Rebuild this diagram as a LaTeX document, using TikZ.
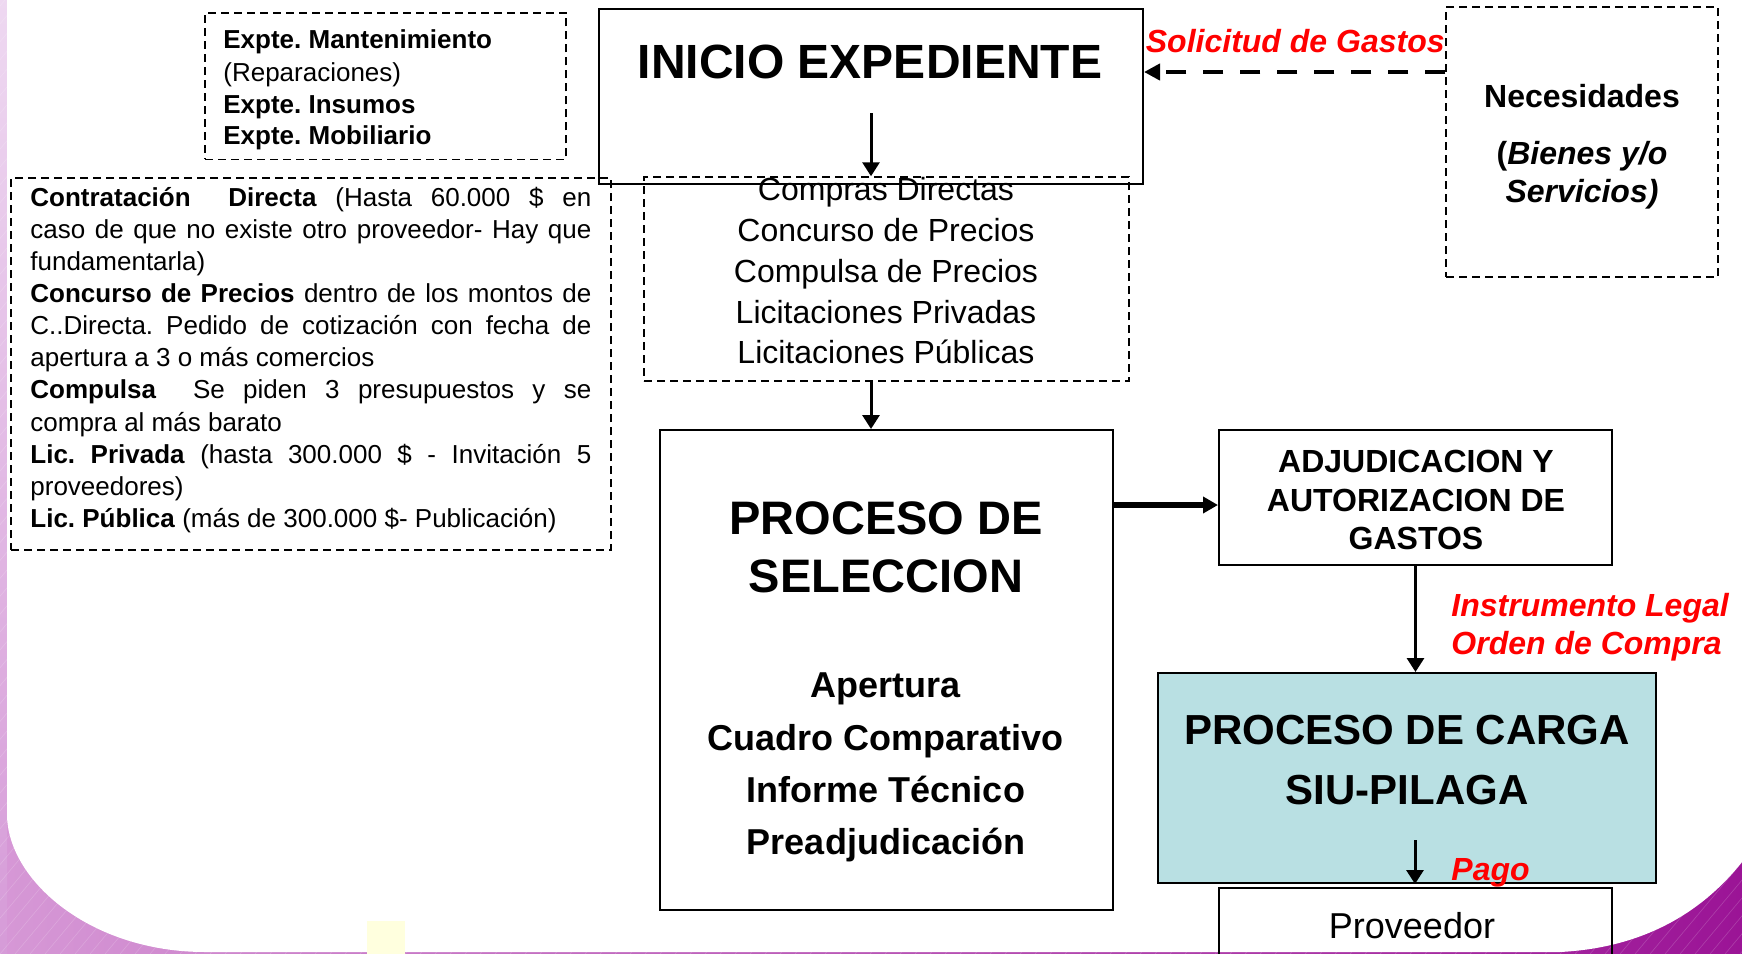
\documentclass[tikz,border=0pt]{standalone}
\usepackage{fontspec}
\setmainfont{Liberation Sans}
\usetikzlibrary{arrows.meta}
\frenchspacing
\definecolor{teal1}{RGB}{185,224,227}
\definecolor{stripTop}{RGB}{238,216,241}
\definecolor{stripBot}{RGB}{214,155,216}
\definecolor{purL}{RGB}{214,152,214}
\definecolor{purR}{RGB}{155,20,150}
\definecolor{yel}{RGB}{255,255,222}
\definecolor{redt}{RGB}{255,0,0}
\newcommand{\jl}[1]{\makebox[280.5pt][s]{#1}}
\tikzset{
  box/.style={draw, line width=1pt, inner sep=0pt},
  dbox/.style={draw, line width=0.75pt, dash pattern=on 4pt off 2.5pt, inner sep=0pt},
  t/.style={inner sep=0pt, anchor=base},
  tl/.style={inner sep=0pt, anchor=base west},
  redlbl/.style={text=redt, font=\fontsize{16}{16}\selectfont\bfseries\itshape},
  arr/.style={-{Triangle[length=7pt,width=8.5pt]}, line width=1.5pt},
  thickarr/.style={-{Triangle[length=7.5pt,width=8pt]}, line width=2.6pt},
  dasharr/.style={-{Triangle[length=8pt,width=8pt]}, line width=2pt, dash pattern=on 10pt off 8.5pt},
  f13/.style={font=\fontsize{13}{16}\selectfont},
  f13b/.style={font=\fontsize{13}{16}\selectfont\bfseries},
  f16/.style={font=\fontsize{16}{16}\selectfont},
  f16b/.style={font=\fontsize{16}{16}\selectfont\bfseries},
  f18/.style={font=\fontsize{18}{18}\selectfont},
  f18b/.style={font=\fontsize{18}{18}\selectfont\bfseries}
}
\begin{document}
\begin{tikzpicture}[x=0.5pt, y=-0.5pt]
\useasboundingbox (0,0) rectangle (1742,954);
% background
\shade[left color=purL, right color=purR] (0,0) rectangle (1742,954);
\shade[top color=stripTop, bottom color=stripBot] (0,0) rectangle (7,954);
\begin{scope}
  \clip (0,0) rectangle (1742,954);
  \foreach \i in {-900,-885,...,1742} \draw[white, opacity=0.18, line width=0.3pt] (\i,954) -- ++(800,-954);
\end{scope}
\fill[white] (7,0) -- (7,814) .. controls (7,880) and (90,952) .. (205,952) -- (1560,952) .. controls (1640,948) and (1700,915) .. (1742,862) -- (1742,0) -- cycle;
\fill[yel] (367,921) rectangle (405,954);

% boxes
\node[dbox, minimum width=180.5pt, minimum height=73.25pt] (expte) at (385.5,86) {};
\node[box, minimum width=272pt, minimum height=87.5pt] (inicio) at (871,96.5) {};
\node[dbox, minimum width=242.5pt, minimum height=102pt] (compras) at (886.5,279) {};
\node[dbox, minimum width=300pt, minimum height=186pt] (tipos) at (311,364) {};
\node[dbox, minimum width=136pt, minimum height=135pt] (neces) at (1582,142) {};
\node[box, minimum width=226.5pt, minimum height=240pt] (psel) at (886.5,670) {};
\node[box, minimum width=196.5pt, minimum height=67.5pt] (adj) at (1415.5,497.5) {};
\node[box, fill=teal1, minimum width=249pt, minimum height=105pt] (carga) at (1407,778) {};
\node[box, minimum width=196.5pt, minimum height=56pt] (prov) at (1415.5,944) {};

% connectors
\coordinate (a1s) at (871,113);
\draw[arr] (a1s) -- (a1s |- compras.north);
\draw[arr] (a1s |- compras.south) -- (a1s |- psel.north);
\coordinate (y505) at (0,505);
\draw[thickarr] (psel.east |- y505) -- (adj.west |- y505);
\draw[arr] (adj.south) -- (adj.south |- carga.north);
\coordinate (a5s) at (1415,840);
\draw[arr] (a5s) -- (a5s |- carga.south);
\coordinate (y72) at (0,72);
\draw[dasharr] (neces.west |- y72) -- (inicio.east |- y72);

% texts
\node[tl, f13b] (ex1) at (223,48) {Expte. Mantenimiento};
\node[tl, f13] (ex2) at (223,81) {(Reparaciones)};
\node[tl, f13b] (ex3) at (223,113) {Expte. Insumos};
\node[tl, f13b] (ex4) at (223,144) {Expte. Mobiliario};

\node[t, font=\fontsize{24}{24}\selectfont\bfseries] (tinicio) at (870,78) {INICIO EXPEDIENTE};
\node[inner sep=0pt, anchor=base east, redlbl] (tsol) at (1445,52) {Solicitud de Gastos};

\node[t, f16b] (tn1) at (1582,107) {Necesidades};
\node[t, f16b] (tn2) at (1582,164) {(\textit{Bienes y/o}};
\node[t, f16b] (tn3) at (1582,202) {\textit{Servicios)}};

\node[t, f16] (c1) at (886,200) {Compras Directas};
\node[t, f16] (c2) at (886,241) {Concurso de Precios};
\node[t, f16] (c3) at (886,282) {Compulsa de Precios};
\node[t, f16] (c4) at (886,323) {Licitaciones Privadas};
\node[t, f16] (c5) at (886,363) {Licitaciones Públicas};

\node[tl, f13] (b1) at (30,206) {\jl{\textbf{Contratación\ \ Directa} (Hasta 60.000 \$ en}};
\node[tl, f13] (b2) at (30,238) {\jl{caso de que no existe otro proveedor- Hay que}};
\node[tl, f13] (b3) at (30,270) {fundamentarla)};
\node[tl, f13] (b4) at (30,302.5) {\jl{\textbf{Concurso de Precios} dentro de los montos de}};
\node[tl, f13] (b5) at (30,334.5) {\jl{C..Directa. Pedido de cotización con fecha de}};
\node[tl, f13] (b6) at (30,366.5) {apertura a 3 o más comercios};
\node[tl, f13] (b7) at (30,398.5) {\jl{\textbf{Compulsa}\ \ Se piden 3 presupuestos y se}};
\node[tl, f13] (b8) at (30,431) {compra al más barato};
\node[tl, f13] (b9) at (30,463) {\jl{\textbf{Lic. Privada} (hasta 300.000 \$ - Invitación 5}};
\node[tl, f13] (b10) at (30,495) {proveedores)};
\node[tl, f13] (b11) at (30,527) {\textbf{Lic. Pública} (más de 300.000 \$- Publicación)};

\node[t, font=\fontsize{23.5}{24}\selectfont\bfseries] (ps1) at (886,534) {PROCESO DE};
\node[t, font=\fontsize{23.5}{24}\selectfont\bfseries] (ps2) at (886,592) {SELECCION};
\node[t, f18b] (ps3) at (886,697) {Apertura};
\node[t, f18b] (ps4) at (886,750) {Cuadro Comparativo};
\node[t, f18b] (ps5) at (886,802) {Informe Técnico};
\node[t, f18b] (ps6) at (886,854) {Preadjudicación};

\node[t, f16b] (ad1) at (1416,472) {ADJUDICACION Y};
\node[t, f16b] (ad2) at (1416,511) {AUTORIZACION DE};
\node[t, f16b] (ad3) at (1416,549) {GASTOS};

\node[tl, redlbl] (il1) at (1451,616) {Instrumento Legal};
\node[tl, redlbl] (il2) at (1451,654) {Orden de Compra};

\node[t, font=\fontsize{21}{21}\selectfont\bfseries] (cg1) at (1407,744) {PROCESO DE CARGA};
\node[t, font=\fontsize{21}{21}\selectfont\bfseries] (cg2) at (1407,804) {SIU-PILAGA};

\node[tl, redlbl] (pago) at (1451,880) {Pago};
\node[t, f18] (tprov) at (1412,938) {Proveedor};
\end{tikzpicture}
\end{document}
